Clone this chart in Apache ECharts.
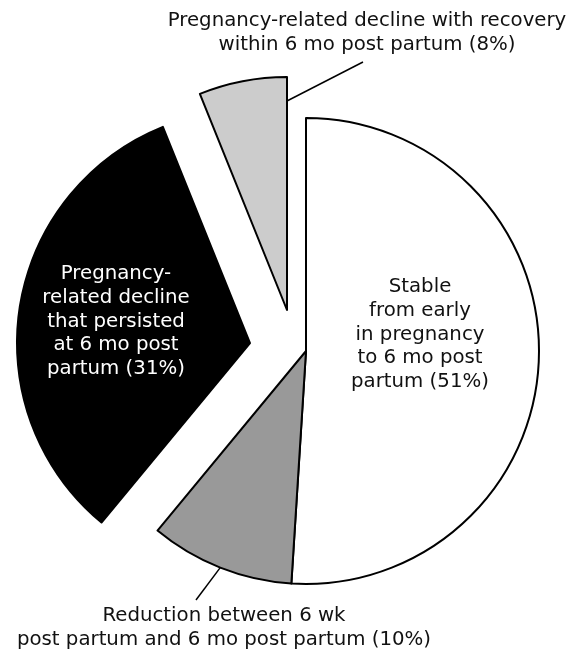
<!DOCTYPE html>
<html>
<head>
<meta charset="utf-8">
<script src="https://cdn.jsdelivr.net/npm/echarts@6/dist/echarts.min.js"></script>
<style>
html,body{margin:0;padding:0;background:#fff;}
#chart{width:580px;height:654px;}
</style>
</head>
<body>
<div id="chart"></div>
<script>
// ---- data ----
const sliceNames = [
  'Stable from early in pregnancy to 6 mo post partum',
  'Reduction between 6 wk post partum and 6 mo post partum',
  'Pregnancy-related decline that persisted at 6 mo post partum',
  'Pregnancy-related decline with recovery within 6 mo post partum'
];
// angular share of each slice as drawn in the figure
const sliceShares = [51, 10, 32.9, 6.1];
// percentages printed in the labels
const statedPercents = [51, 10, 31, 8];
const labelLines = [
  ['Stable', 'from early', 'in pregnancy', 'to 6 mo post', 'partum'],
  ['Reduction between 6 wk', 'post partum and 6 mo post partum'],
  ['Pregnancy-', 'related decline', 'that persisted', 'at 6 mo post', 'partum'],
  ['Pregnancy-related decline with recovery', 'within 6 mo post partum']
];

// ---- styles / layout ----
const colors = ['#ffffff', '#999999', '#000000', '#cccccc'];
const insideLabel = [true, false, true, false];
const R = 233;
const labelAnchor = { 0: [420, 334.5], 1: [224, 628], 2: [116, 321.5], 3: [367, 32.5] };
const FONT = 'DejaVu Sans';

function labelText(i) {
  const lines = labelLines[i].slice();
  lines[lines.length - 1] += ' (' + statedPercents[i] + '%)';
  return lines.join('\n');
}

function makeSeries(center, visible) {
  return {
    type: 'pie',
    center: center,
    radius: R,
    startAngle: 90,
    clockwise: true,
    avoidLabelOverlap: false,
    silent: true,
    animation: false,
    emphasis: { disabled: true },
    label: {
      fontFamily: FONT,
      fontSize: 19.75,
      lineHeight: 23.75,
      color: '#111',
      overflow: 'none',
      align: 'center'
    },
    labelLine: {
      lineStyle: { color: '#000', width: 1.5 },
      smooth: false
    },
    data: sliceShares.map(function (v, i) {
      if (visible.indexOf(i) < 0) {
        return {
          value: v, name: sliceNames[i],
          itemStyle: { color: 'rgba(0,0,0,0)', borderWidth: 0 },
          label: { show: false }, labelLine: { show: false }
        };
      }
      return {
        value: v, name: sliceNames[i],
        itemStyle: { color: colors[i], borderColor: '#000', borderWidth: 2 },
        label: {
          show: true,
          position: insideLabel[i] ? 'inside' : 'outside',
          formatter: labelText(i),
          color: i === 2 ? '#fff' : '#111'
        },
        labelLine: { show: !insideLabel[i] }
      };
    }),
    labelLayout: function (p) {
      const a = labelAnchor[p.dataIndex];
      const out = { x: a[0], y: a[1], align: 'center', verticalAlign: 'middle' };
      if (p.dataIndex === 1 && p.labelLinePoints) {
        const s = p.labelLinePoints[0];
        out.labelLinePoints = [[s[0], s[1]], [196, 600], [196, 600]];
      }
      if (p.dataIndex === 3) {
        out.labelLinePoints = [[285, 102], [363, 62], [363, 62]];
      }
      return out;
    }
  };
}

const chart = echarts.init(document.getElementById('chart'), null, { renderer: 'canvas' });
chart.setOption({
  animation: false,
  backgroundColor: '#fff',
  series: [
    makeSeries([306, 351], [0, 1]),
    makeSeries([250, 343], [2]),
    makeSeries([287, 310], [3])
  ]
});
</script>
</body>
</html>
